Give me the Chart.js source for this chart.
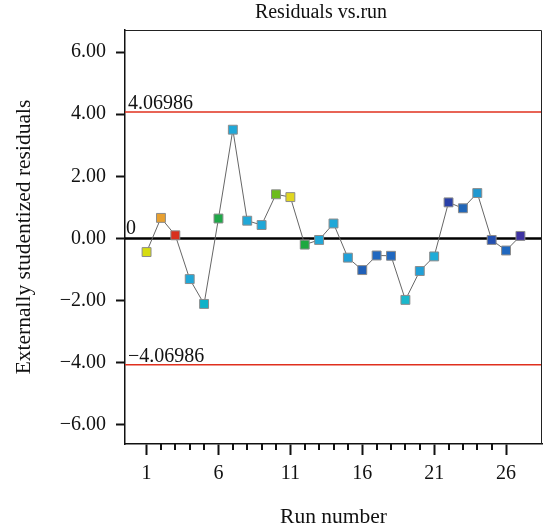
<!DOCTYPE html>
<html>
<head>
<meta charset="utf-8">
<script src="https://cdn.jsdelivr.net/npm/chart.js@4"></script>
<style>
  html, body { margin: 0; padding: 0; background: #fff; }
</style>
</head>
<body>
<canvas id="chart" width="545" height="527"></canvas>
<script>
const runs = [1, 2, 3, 4, 5, 6, 7, 8, 9, 10, 11, 12, 13, 14, 15, 16, 17, 18, 19, 20, 21, 22, 23, 24, 25, 26, 27];
const residuals = [-0.44, 0.66, 0.10, -1.31, -2.11, 0.64, 3.50, 0.57, 0.43, 1.42, 1.33, -0.20, -0.05,
    0.48, -0.62, -1.02, -0.55, -0.56, -1.98, -1.05, -0.58, 1.16, 0.97, 1.46, -0.05, -0.39, 0.08];
const pointColors = ['#d6dc10', '#e8a030', '#d8301e', '#20a8d8', '#10b2c8', '#1fa848', '#20a8d8',
    '#20a8d8', '#20a8d8', '#6cbc1c', '#e0d620', '#1ea840', '#20a8d8', '#20a8d8', '#20a0d8', '#2060b8',
    '#2068c0', '#2068c0', '#1ab8cc', '#20a0d8', '#20acd8', '#2a40a8', '#2066b8', '#2098d0', '#2450b0',
    '#2068c0', '#3e32a2'];
const yTicks = [-6, -4, -2, 0, 2, 4, 6];
const xTickRuns = runs.filter(r => r <= 26);
const xLabelRuns = [1, 6, 11, 16, 21, 26];
const limit = 4.06986;
const xRange = [-0.5, 28.5];
const yRange = [-6.62, 6.71];

const serif = '"Liberation Serif", "DejaVu Serif", serif';
const minus = s => s.replace('-', '\u2212');

// title, minor x ticks, limit labels and the top/right frame
const extras = {
    id: 'extras',
    afterDraw(chart) {
        const { ctx, chartArea: a, scales: { x, y } } = chart;
        ctx.save();
        ctx.strokeStyle = '#222';
        ctx.lineWidth = 1;
        ctx.beginPath();
        ctx.moveTo(a.left, a.top + 0.5);
        ctx.lineTo(a.right - 0.5, a.top + 0.5);
        ctx.lineTo(a.right - 0.5, a.bottom);
        ctx.stroke();

        ctx.lineWidth = 2;
        ctx.strokeStyle = '#111';
        xTickRuns.forEach(r => {
            if (xLabelRuns.includes(r)) return;
            const px = Math.round(x.getPixelForValue(r));
            ctx.beginPath();
            ctx.moveTo(px, a.bottom);
            ctx.lineTo(px, a.bottom + 6);
            ctx.stroke();
        });

        ctx.fillStyle = '#111';
        ctx.font = '20px ' + serif;
        ctx.textAlign = 'center';
        ctx.textBaseline = 'middle';
        ctx.fillText('Residuals vs.run', 321, 13);

        ctx.textAlign = 'left';
        ctx.textBaseline = 'alphabetic';
        ctx.fillText(limit.toString(), a.left + 3, y.getPixelForValue(limit) - 3);
        ctx.fillText(minus((-limit).toString()), a.left + 3, y.getPixelForValue(-limit) - 3);
        ctx.fillText('0', a.left + 1, y.getPixelForValue(0) - 4);
        ctx.restore();
    }
};

new Chart(document.getElementById('chart'), {
    type: 'line',
    data: {
        datasets: [{
            data: runs.map((r, i) => ({ x: r, y: residuals[i] })),
            borderColor: '#666',
            borderWidth: 1,
            pointStyle: 'rect',
            pointRadius: 6.3,
            pointBackgroundColor: pointColors,
            pointBorderColor: '#8c8c8c',
            pointBorderWidth: 1,
            tension: 0
        }, {
            data: [{ x: xRange[0], y: 0 }, { x: xRange[1], y: 0 }],
            borderColor: '#000',
            borderWidth: 2.5,
            pointRadius: 0
        }, {
            data: [{ x: xRange[0], y: limit }, { x: xRange[1], y: limit }],
            borderColor: '#e0301e',
            borderWidth: 1.6,
            pointRadius: 0
        }, {
            data: [{ x: xRange[0], y: -limit }, { x: xRange[1], y: -limit }],
            borderColor: '#e0301e',
            borderWidth: 1.6,
            pointRadius: 0
        }]
    },
    options: {
        responsive: false,
        animation: false,
        devicePixelRatio: 1,
        layout: { autoPadding: false, padding: { top: 30, right: 3, left: 0, bottom: 0 } },
        plugins: { legend: { display: false }, tooltip: { enabled: false } },
        scales: {
            x: {
                type: 'linear',
                min: xRange[0],
                max: xRange[1],
                afterBuildTicks: s => { s.ticks = xTickRuns.map(v => ({ value: v })); },
                afterFit: s => { s.height = 83; s.paddingLeft = 0; s.paddingRight = 0; },
                grid: {
                    drawOnChartArea: false,
                    tickLength: 11,
                    tickWidth: 2,
                    tickColor: c => xLabelRuns.includes(c.tick.value) ? '#111' : 'rgba(0,0,0,0)'
                },
                border: { color: '#111', width: 1.5 },
                ticks: {
                    autoSkip: false,
                    maxRotation: 0,
                    padding: 7,
                    color: '#111',
                    font: { family: serif, size: 20 },
                    callback: v => xLabelRuns.includes(v) ? String(v) : ''
                },
                title: {
                    display: true,
                    text: 'Run number',
                    color: '#111',
                    font: { family: serif, size: 21.5 },
                    padding: { top: 0, bottom: -3 }
                }
            },
            y: {
                min: yRange[0],
                max: yRange[1],
                afterBuildTicks: s => { s.ticks = yTicks.map(v => ({ value: v })); },
                afterFit: s => { s.width = 125; },
                grid: {
                    drawOnChartArea: false,
                    tickLength: 9,
                    tickWidth: 2,
                    tickColor: '#111'
                },
                border: { color: '#111', width: 1.5 },
                ticks: {
                    padding: 10,
                    color: '#111',
                    font: { family: serif, size: 20 },
                    callback: v => minus(v.toFixed(2))
                },
                title: {
                    display: true,
                    text: 'Externally studentized residuals',
                    color: '#111',
                    font: { family: serif, size: 21.5 },
                    padding: { top: 11, bottom: 0 }
                }
            }
        }
    },
    plugins: [extras]
});
</script>
</body>
</html>
